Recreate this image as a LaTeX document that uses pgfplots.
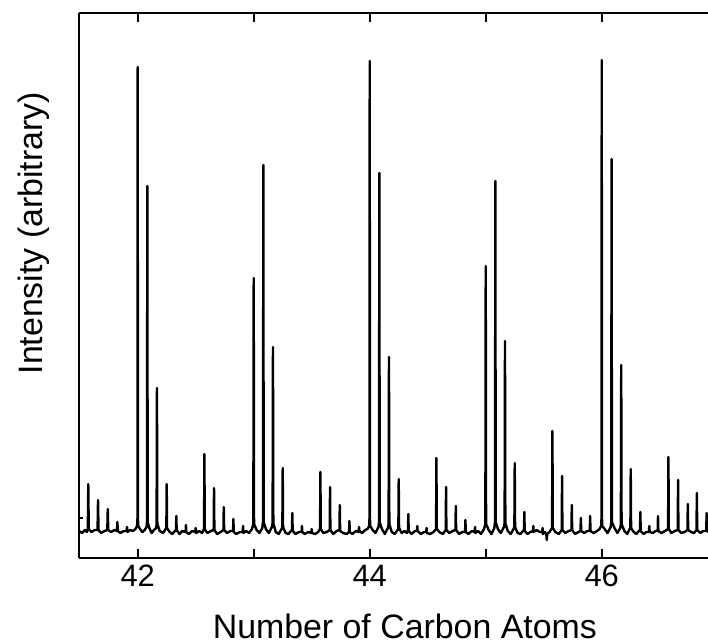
\documentclass[border=0pt]{standalone}
\usepackage{fontspec}
\setmainfont{Liberation Sans}
\usepackage{pgfplots}
\pgfplotsset{compat=1.18}

% spectrum, intensity in pixel units above the baseline
\pgfplotstableread{
x y
41.494 1
41.520 -1
41.545 2
41.562 0
41.570 3
41.574 48
41.578 3
41.600 0
41.630 2
41.654 2
41.658 32
41.662 2
41.685 -1
41.715 1
41.738 2
41.742 23
41.746 2
41.770 0
41.800 2
41.821 1
41.825 10
41.829 1
41.850 -1
41.880 1
41.904 1
41.908 5
41.912 0
41.935 2
41.960 1
41.980 3
41.995 6
41.998 14
42.000 465
42.002 14
42.005 6
42.020 3
42.040 0
42.060 2
42.076 5
42.080 10
42.083 346
42.086 10
42.100 4
42.120 -1
42.140 2
42.159 4
42.163 8
42.166 144
42.169 8
42.190 1
42.220 -1
42.240 3
42.247 4
42.250 48
42.253 4
42.275 0
42.300 -2
42.320 1
42.330 2
42.333 16
42.336 2
42.360 -2
42.385 1
42.413 0
42.416 7
42.419 0
42.440 -2
42.470 1
42.497 0
42.500 4
42.503 -1
42.530 1
42.555 -1
42.572 3
42.575 78
42.578 3
42.600 -1
42.630 1
42.655 2
42.658 44
42.661 2
42.685 -2
42.715 0
42.739 2
42.742 25
42.745 2
42.770 -1
42.800 1
42.822 1
42.825 13
42.828 0
42.850 -2
42.880 0
42.905 0
42.908 6
42.911 -1
42.935 1
42.960 -1
42.985 3
42.997 8
43.000 254
43.003 8
43.025 2
43.050 -1
43.074 4
43.080 10
43.083 367
43.086 10
43.105 3
43.130 -1
43.157 5
43.163 9
43.166 185
43.169 9
43.190 0
43.215 -2
43.240 3
43.247 5
43.250 64
43.253 5
43.275 -1
43.300 -2
43.320 1
43.330 2
43.333 19
43.336 1
43.360 -2
43.390 0
43.413 0
43.416 6
43.419 0
43.440 -2
43.470 0
43.497 -1
43.500 3
43.503 -1
43.530 -2
43.555 0
43.572 3
43.575 60
43.578 3
43.600 -1
43.630 0
43.655 2
43.658 45
43.661 2
43.685 -2
43.715 1
43.739 2
43.742 27
43.745 1
43.770 -1
43.800 -2
43.822 0
43.825 11
43.828 0
43.850 -2
43.880 1
43.905 0
43.908 5
43.911 1
43.935 -1
43.960 2
43.982 3
43.995 6
43.998 14
44.000 471
44.002 14
44.005 6
44.025 2
44.050 -1
44.075 5
44.080 10
44.083 359
44.086 10
44.105 3
44.130 -2
44.157 4
44.163 8
44.166 175
44.169 8
44.190 0
44.215 -2
44.240 2
44.247 4
44.250 53
44.253 4
44.275 -1
44.300 1
44.320 -1
44.330 2
44.333 18
44.336 1
44.360 -2
44.390 1
44.407 1
44.410 6
44.413 1
44.440 -2
44.470 0
44.487 0
44.490 4
44.493 -1
44.520 -2
44.550 0
44.572 3
44.575 74
44.578 3
44.600 0
44.630 -2
44.655 2
44.658 45
44.661 2
44.685 -1
44.715 1
44.739 2
44.742 26
44.745 2
44.770 -2
44.800 0
44.822 0
44.825 12
44.828 0
44.850 -2
44.880 1
44.905 0
44.908 5
44.911 -1
44.935 1
44.960 -2
44.985 3
44.997 8
45.000 266
45.003 8
45.025 2
45.050 -2
45.074 4
45.080 10
45.083 351
45.086 10
45.105 3
45.130 -1
45.157 5
45.163 9
45.166 191
45.169 9
45.190 1
45.215 -2
45.240 3
45.247 5
45.250 69
45.253 5
45.275 -1
45.300 -2
45.320 1
45.330 2
45.333 20
45.336 1
45.360 -2
45.385 0
45.407 1
45.410 6
45.413 0
45.440 2
45.465 0
45.487 0
45.490 4
45.493 -2
45.510 0
45.522 -2
45.526 -8
45.530 -2
45.550 0
45.572 4
45.575 101
45.578 4
45.600 0
45.630 -2
45.655 2
45.658 56
45.661 2
45.685 -1
45.715 1
45.739 2
45.742 27
45.745 2
45.770 -2
45.800 0
45.817 1
45.820 14
45.823 1
45.850 -1
45.875 1
45.897 1
45.900 16
45.903 1
45.930 -1
45.960 1
45.982 3
45.995 6
45.998 14
46.000 472
46.002 14
46.005 6
46.025 3
46.050 -1
46.077 5
46.082 10
46.085 373
46.088 10
46.110 4
46.135 -1
46.160 4
46.165 8
46.168 167
46.171 8
46.195 1
46.220 -2
46.240 3
46.247 4
46.250 63
46.253 4
46.275 0
46.300 -2
46.320 1
46.330 2
46.333 20
46.336 1
46.360 -2
46.385 0
46.407 0
46.410 6
46.413 0
46.440 -1
46.465 1
46.482 1
46.485 16
46.488 1
46.515 -1
46.545 1
46.572 3
46.575 75
46.578 3
46.600 -1
46.630 1
46.655 2
46.658 52
46.661 2
46.685 -1
46.715 0
46.739 2
46.742 28
46.745 2
46.770 0
46.795 -1
46.817 2
46.820 39
46.823 2
46.850 -1
46.875 1
46.901 1
46.904 19
46.907 1
46.916 0
}\spectrum

\begin{document}
\begin{tikzpicture}
\begin{axis}[name=ax,
  scale only axis, width=314.5bp, height=272.5bp,
  xmin=41.494, xmax=46.916, ymin=-26, ymax=519,
  axis x line=box, axis y line=left,
  x axis line style={-}, y axis line style={-},
  axis line style={line width=0.9bp},
  xtick={42,43,44,45,46}, xticklabels={42,,44,,46},
  ytick=\empty, extra y ticks={14}, extra y tick labels={},
  extra y tick style={major tick length=2bp},
  tick align=inside, major tick length=4.75bp,
  tick style={line width=0.9bp, black},
  /pgf/number format/assume math mode=true,
  tick label style={font=\fontsize{15.5}{18}\selectfont},
  xlabel={Number of Carbon Atoms},
  ylabel={Intensity (arbitrary)},
  xlabel style={at={(axis description cs:0.518,0)}, anchor=base, yshift=-40bp,
    inner sep=0pt, font=\fontsize{17}{20}\selectfont},
  ylabel style={at={(axis description cs:-0.0588,0.596)}, anchor=base,
    font=\fontsize{17}{20}\selectfont},
]
\addplot[black, line width=1.2bp, line join=round] table[x=x, y=y] {\spectrum};
\end{axis}
\pgfresetboundingbox
\path[use as bounding box] ([xshift=-39.5bp,yshift=-42bp]ax.south west) rectangle ([yshift=6.5bp]ax.north east);
\end{tikzpicture}
\end{document}
